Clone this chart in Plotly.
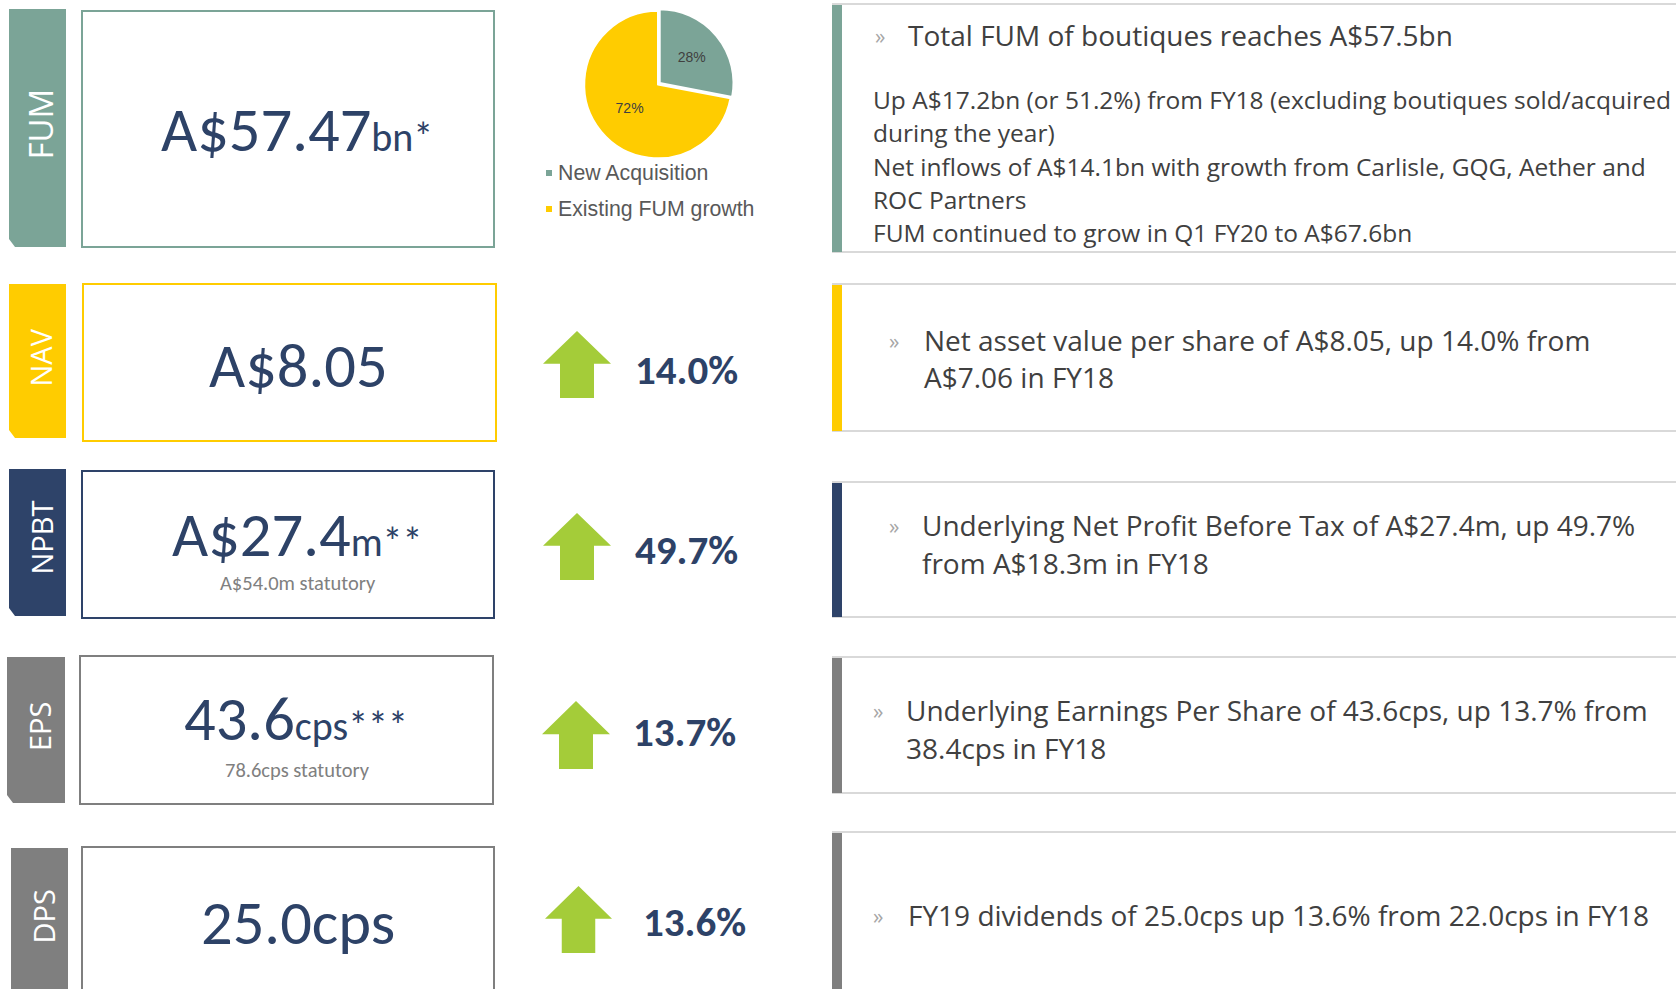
import plotly.graph_objects as go

W, H = 1676, 989

# ---------------- data ----------------
metrics = ["FUM", "NAV", "NPBT", "EPS", "DPS"]
main_values = ["A$57.47", "A$8.05", "A$27.4", "43.6", "25.0cps"]
main_suffix = ["bn*", "", "m**", "cps***", ""]
statutory = ["", "", "A$54.0m statutory", "78.6cps statutory", ""]
growth_pct = [None, 14.0, 49.7, 13.7, 13.6]

pie_labels = ["New Acquisition", "Existing FUM growth"]
pie_values = [28, 72]

fum_heading = "Total FUM of boutiques reaches A$57.5bn"
fum_lines = [
    "Up A$17.2bn (or 51.2%) from FY18 (excluding boutiques sold/acquired",
    "during the year)",
    "Net inflows of A$14.1bn with growth from Carlisle, GQG, Aether and",
    "ROC Partners",
    "FUM continued to grow in Q1 FY20 to A$67.6bn",
]
bullet_texts = [
    None,
    ["Net asset value per share of A$8.05, up 14.0% from", "A$7.06 in FY18"],
    ["Underlying Net Profit Before Tax of A$27.4m, up 49.7%", "from A$18.3m in FY18"],
    ["Underlying Earnings Per Share of 43.6cps, up 13.7% from", "38.4cps in FY18"],
    ["FY19 dividends of 25.0cps up 13.6% from 22.0cps in FY18"],
]

# ---------------- styles / layout ----------------
TEAL = "#7BA497"
YELLOW = "#FFCC00"
NAVY = "#2E4369"
GRAY = "#7F7F7F"
GREEN = "#A4CC39"
row_colors = [TEAL, YELLOW, NAVY, GRAY, GRAY]
TEXT_NAVY = "#2D4267"
BODY = "#404040"
FONT = "Carlito, Lato, sans-serif"
BODY_FONT = "Open Sans, sans-serif"

tabs = [(9, 66, 9, 247), (9, 66, 284, 438), (9, 66, 469, 616), (7, 65, 657, 803), (11, 68, 848, 1000)]
tab_label_y = [124, 358, 538, 727, 917]
tab_label_size = [33, 29, 29, 29, 29]
boxes = [(82, 494, 11, 247), (83, 496, 284, 441), (82, 494, 471, 618), (80, 493, 656, 804), (82, 494, 847, 1000)]
value_pos = [(297, 129), (298, 365), (297, 534), (296, 718), (298, 922)]
stat_y = [None, None, 583, 770, None]
arrows = [None, (543, 611, 331, 398), (543, 611, 513, 580), (542, 610, 701, 769), (545, 612, 886, 953)]
pct_pos = [None, (635, 370), (635, 550), (633, 732), (643, 922)]
panels = [(4, 252), (284, 431), (482, 617), (657, 793), (832, 1000)]
bullet_x = [880, 894, 894, 878, 878]
text_x = [906, 922, 920, 904, 906]
line_ys = [[35], [340, 377], [525, 563], [710, 748], [915]]
fum_line_ys = [100, 132, 166, 199, 232]


def px(x):
    return x / W


def py(y):
    return 1 - y / H


fig = go.Figure()

fig.add_trace(go.Pie(
    labels=pie_labels, values=pie_values, sort=False, direction="clockwise", rotation=0,
    marker=dict(colors=[TEAL, YELLOW], line=dict(color="white", width=2)),
    pull=[0.03, 0], textinfo="percent", textposition="inside",
    insidetextorientation="horizontal",
    textfont=dict(color="#404040", size=14, family="Liberation Sans, Arial"),
    showlegend=False, hoverinfo="label+percent",
    domain=dict(x=[px(582), px(734)], y=[py(161), py(8)]),
))

shapes = []
ann = []

for i, m in enumerate(metrics):
    c = row_colors[i]
    # tab with chamfered bottom-left corner
    x0, x1, y0, y1 = tabs[i]
    path = (f"M {px(x0)},{py(y0)} L {px(x1)},{py(y0)} L {px(x1)},{py(y1)} "
            f"L {px(x0 + 6)},{py(y1)} L {px(x0)},{py(y1 - 8)} Z")
    shapes.append(dict(type="path", path=path, xref="paper", yref="paper",
                       fillcolor=c, line=dict(width=0), layer="below"))
    ann.append(dict(x=px((x0 + x1) / 2 + 3), y=py(tab_label_y[i]),
                    text=m, textangle=-90, showarrow=False, xref="paper", yref="paper",
                    font=dict(family="Open Sans", size=tab_label_size[i], color="white"),
                    xanchor="center", yanchor="middle"))
    # value box
    bx0, bx1, by0, by1 = boxes[i]
    shapes.append(dict(type="rect", x0=px(bx0), x1=px(bx1), y0=py(by0), y1=py(by1),
                       xref="paper", yref="paper", line=dict(color=c, width=2),
                       fillcolor="white", layer="below"))
    txt = main_values[i]
    if main_suffix[i]:
        txt += f"<span style='font-size:40px'>{main_suffix[i]}</span>"
    vx, vy = value_pos[i]
    ann.append(dict(x=px(vx), y=py(vy), text=txt, showarrow=False, xref="paper", yref="paper",
                    font=dict(family=FONT, size=62.5, color=TEXT_NAVY),
                    xanchor="center", yanchor="middle"))
    if statutory[i]:
        ann.append(dict(x=px(vx + 1), y=py(stat_y[i]), text=statutory[i], showarrow=False,
                        xref="paper", yref="paper",
                        font=dict(family=FONT, size=20.5, color="#808080"),
                        xanchor="center", yanchor="middle"))
    # growth arrow + percentage
    if growth_pct[i] is not None:
        ax0, ax1, ay0, ay1 = arrows[i]
        w = ax1 - ax0
        hb = ay0 + (ay1 - ay0) * 0.49
        s0 = ax0 + w * 0.25
        s1 = ax1 - w * 0.25
        apath = (f"M {px((ax0 + ax1) / 2)},{py(ay0)} L {px(ax1)},{py(hb)} L {px(s1)},{py(hb)} "
                 f"L {px(s1)},{py(ay1)} L {px(s0)},{py(ay1)} L {px(s0)},{py(hb)} "
                 f"L {px(ax0)},{py(hb)} Z")
        shapes.append(dict(type="path", path=apath, xref="paper", yref="paper",
                           fillcolor=GREEN, line=dict(width=0)))
        tx, ty = pct_pos[i]
        ann.append(dict(x=px(tx - 2), y=py(ty), text=f"<b>{growth_pct[i]:.1f}%</b>", showarrow=False,
                        xref="paper", yref="paper",
                        font=dict(family=FONT, size=41, color=TEXT_NAVY),
                        xanchor="left", yanchor="middle"))
    # right commentary panel
    p0, p1 = panels[i]
    shapes.append(dict(type="line", x0=px(832), x1=1.0, y0=py(p0), y1=py(p0), xref="paper", yref="paper",
                       line=dict(color="#D9D9D9", width=2)))
    if p1 < 989:
        shapes.append(dict(type="line", x0=px(832), x1=1.0, y0=py(p1), y1=py(p1), xref="paper",
                           yref="paper", line=dict(color="#D9D9D9", width=2)))
    shapes.append(dict(type="rect", x0=px(832), x1=px(842), y0=py(p0 + 1), y1=py(p1),
                       xref="paper", yref="paper", fillcolor=c, line=dict(width=0)))
    lines = [fum_heading] if i == 0 else bullet_texts[i]
    size = 28
    for k, (ln, ly) in enumerate(zip(lines, line_ys[i])):
        if k == 0:
            ann.append(dict(x=px(bullet_x[i]), y=py(ly + 1), text="»", showarrow=False,
                            xref="paper", yref="paper",
                            font=dict(family=BODY_FONT, size=21, color="#A6A6A6"),
                            xanchor="center", yanchor="middle"))
        ann.append(dict(x=px(text_x[i]), y=py(ly), text=ln, showarrow=False, xref="paper", yref="paper",
                        font=dict(family=BODY_FONT, size=size, color=BODY),
                        xanchor="left", yanchor="middle"))

# FUM body lines
for ln, ly in zip(fum_lines, fum_line_ys):
    ann.append(dict(x=px(871), y=py(ly), text=ln, showarrow=False, xref="paper", yref="paper",
                    font=dict(family=BODY_FONT, size=24.5, color=BODY),
                    xanchor="left", yanchor="middle"))

# pie legend
leg_y = [173, 209]
for lab, col, ly in zip(pie_labels, [TEAL, YELLOW], leg_y):
    shapes.append(dict(type="rect", x0=px(546), x1=px(552), y0=py(ly - 3), y1=py(ly + 3),
                       xref="paper", yref="paper", fillcolor=col, line=dict(width=0)))
    ann.append(dict(x=px(556), y=py(ly), text=lab, showarrow=False, xref="paper", yref="paper",
                    font=dict(family="Liberation Sans, Arial", size=21.3, color="#595959"),
                    xanchor="left", yanchor="middle"))

fig.update_layout(
    width=W, height=H, autosize=False,
    margin=dict(l=0, r=0, t=0, b=0, pad=0),
    paper_bgcolor="white", plot_bgcolor="white",
    shapes=shapes, annotations=ann, showlegend=False,
)

fig.write_html("out.html", include_plotlyjs=True,
               post_script="document.body.style.margin='0';document.body.style.overflow='hidden';",
               config={"displayModeBar": False})
